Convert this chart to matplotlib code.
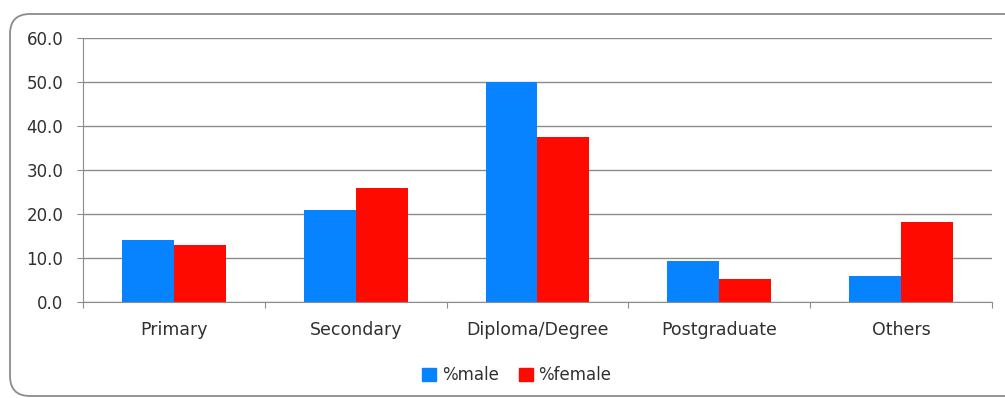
import matplotlib.pyplot as plt
import numpy as np
from matplotlib.patches import FancyBboxPatch, Patch

categories = ['Primary', 'Secondary', 'Diploma/Degree', 'Postgraduate', 'Others']
male = [14.0, 20.9, 50.0, 9.3, 5.8]
female = [13.0, 26.0, 37.6, 5.2, 18.1]

plt.rcParams['font.family'] = ['DejaVu Sans']

fig = plt.figure(figsize=(10.05, 3.98), dpi=100)
ax = fig.add_axes([0.0826, 0.2412, 0.9044, 0.6633])

# chart frame with rounded corners
frame = FancyBboxPatch((0.10, 0.02), 10.2, 3.82, boxstyle='round,pad=0,rounding_size=0.2',
                       transform=fig.dpi_scale_trans, facecolor='none',
                       edgecolor='#8c8c8c', linewidth=1.3, zorder=0)
fig.patches.append(frame)

x = np.arange(len(categories))
w = 1 / 3.5
ax.bar(x - w / 2, male, w, color='#0883ff', zorder=2)
ax.bar(x + w / 2, female, w, color='#ff0a00', zorder=2)

ax.set_ylim(0, 60)
ax.set_xlim(-0.5, len(categories) - 0.5)
ax.set_yticks(np.arange(0, 61, 10))
ax.set_yticklabels([f'{v:.1f}' for v in np.arange(0, 61, 10)])
ax.yaxis.grid(True, color='#8c8c8c', linewidth=1.0, zorder=1)
ax.set_axisbelow(True)

# major ticks sit between categories, labels go on minor ticks at the centres
ax.set_xticks(np.arange(-0.5, len(categories), 1))
ax.set_xticklabels([])
ax.set_xticks(x, minor=True)
ax.set_xticklabels(categories, minor=True)
ax.tick_params(axis='x', which='minor', length=0, pad=14, labelsize=12.5, labelcolor='#303030')
ax.tick_params(axis='x', which='major', length=4.3, color='#8c8c8c')
ax.tick_params(axis='y', length=4.3, color='#8c8c8c', labelsize=12, labelcolor='#303030', pad=10)

for s in ['top', 'right']:
    ax.spines[s].set_visible(False)
for s in ['left', 'bottom']:
    ax.spines[s].set_color('#8c8c8c')

handles = [Patch(color='#0883ff', label='%male'), Patch(color='#ff0a00', label='%female')]
fig.legend(handles=handles, loc='center', bbox_to_anchor=(0.514, 0.058), ncol=2, frameon=False,
           fontsize=12, handlelength=0.84, handleheight=0.84, handletextpad=0.36, columnspacing=1.2,
           labelcolor='#303030')

fig.savefig('out.png', dpi=100)
